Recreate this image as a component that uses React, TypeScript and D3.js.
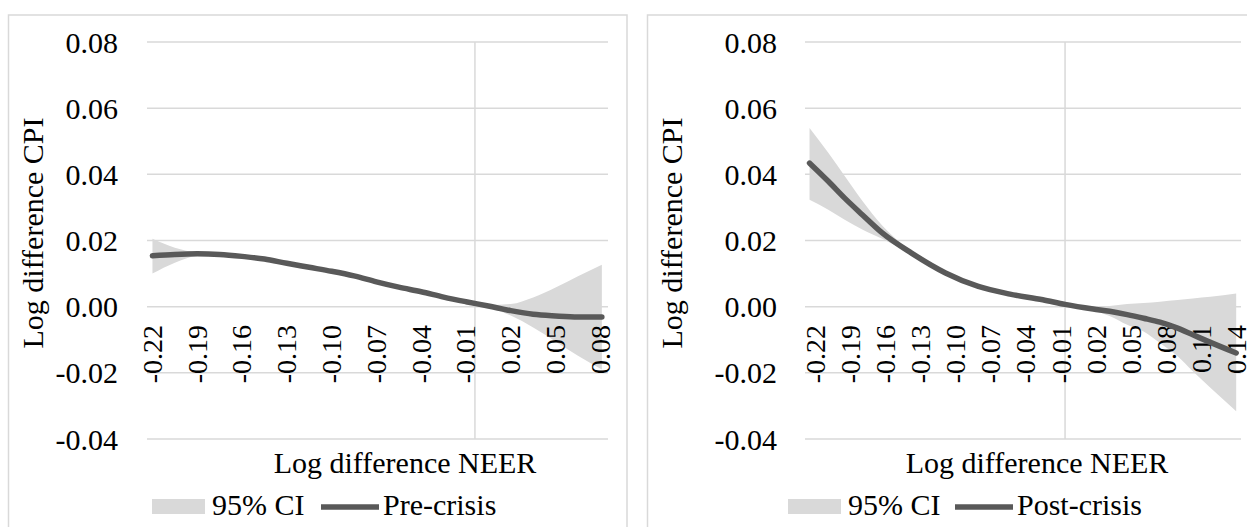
import React from "react";
import * as d3 from "d3";

const yTicks = [-0.04, -0.02, 0, 0.02, 0.04, 0.06, 0.08];
const yTickLabels = ["-0.04", "-0.02", "0.00", "0.02", "0.04", "0.06", "0.08"];

const xLabelsPre = ["-0.22", "-0.19", "-0.16", "-0.13", "-0.10", "-0.07", "-0.04", "-0.01", "0.02", "0.05", "0.08"];
const xLabelsPost = ["-0.22", "-0.19", "-0.16", "-0.13", "-0.10", "-0.07", "-0.04", "-0.01", "0.02", "0.05", "0.08", "0.11", "0.14"];

const preX = [-0.216, -0.201, -0.186, -0.171, -0.156, -0.141, -0.126, -0.111, -0.096, -0.081, -0.066, -0.051, -0.036, -0.021, -0.006, 0.009, 0.024, 0.039, 0.054, 0.069, 0.085];
const preLine = [0.0154, 0.0158, 0.016, 0.0158, 0.0152, 0.0144, 0.0131, 0.0119, 0.0107, 0.0093, 0.0075, 0.0059, 0.0045, 0.0029, 0.0015, 0.0002, -0.0012, -0.0023, -0.0028, -0.0031, -0.0031];
const preUpper = [0.0205, 0.0178, 0.0164, 0.0161, 0.0155, 0.0147, 0.0134, 0.0122, 0.011, 0.0096, 0.0078, 0.0062, 0.0048, 0.0032, 0.0018, 0.0005, 0.0008, 0.0028, 0.0058, 0.0092, 0.0127];
const preLower = [0.01, 0.0133, 0.0153, 0.0155, 0.0149, 0.0141, 0.0128, 0.0116, 0.0104, 0.009, 0.0072, 0.0056, 0.0042, 0.0026, 0.0012, -0.0002, -0.0027, -0.0063, -0.0105, -0.0148, -0.019];

const postX = [-0.218, -0.202, -0.188, -0.173, -0.156, -0.131, -0.102, -0.074, -0.047, -0.019, 0.0, 0.024, 0.038, 0.053, 0.067, 0.081, 0.096, 0.109, 0.124, 0.146];
const postLine = [0.0434, 0.0379, 0.0328, 0.0278, 0.0223, 0.0162, 0.0102, 0.0061, 0.0038, 0.0021, 0.0007, -0.0007, -0.0014, -0.0024, -0.0035, -0.0047, -0.0065, -0.0085, -0.0108, -0.014];
const postUpper = [0.054, 0.0465, 0.0395, 0.032, 0.0245, 0.0166, 0.0105, 0.0064, 0.0041, 0.0024, 0.001, -0.0003, 0.0002, 0.0008, 0.0011, 0.0015, 0.002, 0.0025, 0.003, 0.004];
const postLower = [0.0323, 0.0293, 0.0263, 0.0233, 0.0205, 0.0158, 0.0099, 0.0058, 0.0035, 0.0018, 0.0003, -0.0012, -0.0028, -0.0055, -0.0075, -0.011, -0.015, -0.0195, -0.0245, -0.0316];

const FONT = '"Liberation Serif", "DejaVu Serif", "Times New Roman", Times, serif';
const GRID = "#d9d9d9";
const LINE = "#595959";
const txt = { fontFamily: FONT, fill: "#000" } as const;

type PanelProps = {
  frameX: number;
  frameW: number;
  gridX0: number;
  gridX1: number;
  xDomain: [number, number];
  xRange: [number, number];
  labelStart: number;
  labels: string[];
  xs: number[];
  line: number[];
  upper: number[];
  lower: number[];
  yTickRight: number;
  yTitleX: number;
  xTitleX: number;
  legendRectX: number;
  legendLineX: number;
  seriesName: string;
};

function Panel(p: PanelProps) {
  const y = d3.scaleLinear().domain([-0.04, 0.08]).range([439, 42]);
  const x = d3.scaleLinear().domain(p.xDomain).range(p.xRange);
  const pts = p.xs.map((v, i) => ({ x: v, y: p.line[i], lo: p.lower[i], hi: p.upper[i] }));
  const area = d3
    .area<any>()
    .x((d) => x(d.x))
    .y0((d) => y(d.lo))
    .y1((d) => y(d.hi))
    .curve(d3.curveMonotoneX);
  const lineGen = d3
    .line<any>()
    .x((d) => x(d.x))
    .y((d) => y(d.y))
    .curve(d3.curveMonotoneX);
  return (
    <g>
      <rect x={p.frameX} y={15} width={p.frameW} height={560} fill="white" stroke={GRID} strokeWidth={1.5} />
      {yTicks.map((t) => (
        <line key={"h" + t} x1={p.gridX0} x2={p.gridX1} y1={y(t)} y2={y(t)} stroke={GRID} strokeWidth={1.5} />
      ))}
      <line x1={x(0)} x2={x(0)} y1={y(0.08)} y2={y(-0.04)} stroke={GRID} strokeWidth={1.5} />
      <path d={area(pts) || ""} fill="#d9d9d9" />
      {yTicks.map((t, i) => (
        <text key={"yl" + t} x={p.yTickRight} y={y(t)} dy="0.35em" textAnchor="end" fontSize={30} style={txt}>
          {yTickLabels[i]}
        </text>
      ))}
      {p.labels.map((s, i) => {
        const px = x(p.labelStart + i * 0.03);
        return (
          <text key={"xl" + i} transform={`translate(${px},325) rotate(-90)`} dy="0.35em" textAnchor="end" fontSize={28} style={txt}>
            {s}
          </text>
        );
      })}
      <path d={lineGen(pts) || ""} fill="none" stroke={LINE} strokeWidth={5.5} strokeLinecap="round" strokeLinejoin="round" />
      <text transform={`translate(${p.yTitleX},233) rotate(-90)`} textAnchor="middle" fontSize={30} style={txt}>
        Log difference CPI
      </text>
      <text x={p.xTitleX} y={473} textAnchor="middle" fontSize={30} style={txt}>
        Log difference NEER
      </text>
      <rect x={p.legendRectX} y={499} width={53} height={15} fill="#d9d9d9" />
      <text x={p.legendRectX + 60} y={515} fontSize={30} style={txt}>
        95% CI
      </text>
      <line x1={p.legendLineX} x2={p.legendLineX + 58} y1={507} y2={507} stroke={LINE} strokeWidth={5.5} />
      <text x={p.legendLineX + 62} y={515} fontSize={30} style={txt}>
        {p.seriesName}
      </text>
    </g>
  );
}

export default function App() {
  return (
    <svg width={1247} height={527} style={{ position: "absolute", left: 0, top: 0, background: "white" }}>
      <Panel
        frameX={8.5}
        frameW={618.5}
        gridX0={147}
        gridX1={608}
        xDomain={[-0.2163, 0.0851]}
        xRange={[152, 602]}
        labelStart={-0.2163}
        labels={xLabelsPre}
        xs={preX}
        line={preLine}
        upper={preUpper}
        lower={preLower}
        yTickRight={118}
        yTitleX={43}
        xTitleX={405}
        legendRectX={152}
        legendLineX={321}
        seriesName="Pre-crisis"
      />
      <Panel
        frameX={647.5}
        frameW={620}
        gridX0={805}
        gridX1={1241}
        xDomain={[-0.2176, 0.1467]}
        xRange={[810, 1237]}
        labelStart={-0.2136}
        labels={xLabelsPost}
        xs={postX}
        line={postLine}
        upper={postUpper}
        lower={postLower}
        yTickRight={777}
        yTitleX={682}
        xTitleX={1037}
        legendRectX={788}
        legendLineX={955}
        seriesName="Post-crisis"
      />
    </svg>
  );
}
